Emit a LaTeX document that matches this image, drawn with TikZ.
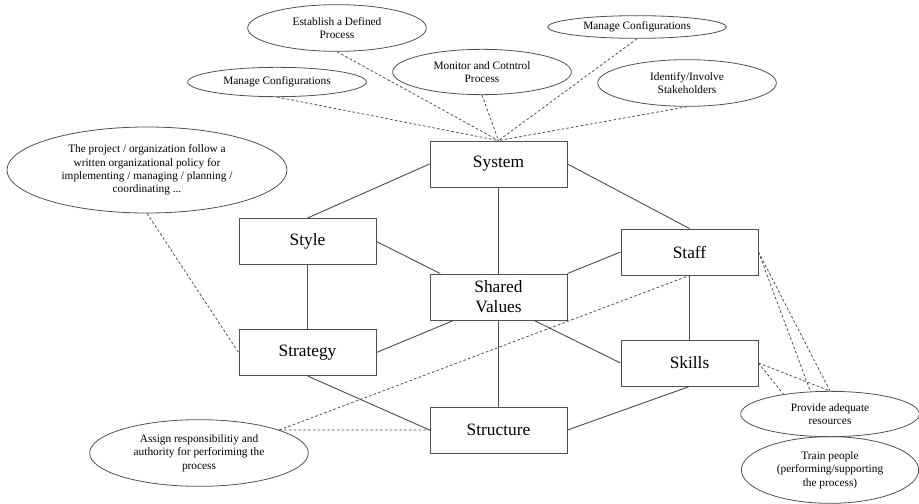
\documentclass[tikz,border=0pt]{standalone}
\usepackage{fontspec}
\setmainfont{Liberation Serif}
\usetikzlibrary{shapes.geometric}
\definecolor{edgegray}{HTML}{505050}
\tikzset{
  box/.style={draw=edgegray, line width=0.7pt, minimum width=102.75pt, minimum height=34.5pt,
              inner sep=0pt, align=center, font=\fontsize{13}{15}\selectfont},
  note/.style={draw=edgegray, line width=0.6pt, ellipse, inner sep=0pt, align=center,
               minimum width=134pt, font=\fontsize{8.5}{10}\selectfont},
  link/.style={draw=edgegray, line width=0.7pt},
  hint/.style={draw=edgegray, line width=0.6pt, dash pattern=on 2pt off 1.6pt},
}

\begin{document}
\begin{tikzpicture}[x=0.75pt, y=-0.75pt]
    \useasboundingbox (0,0) rectangle (919,503);
    \node[box] (system) at (498.5, 164) {System};
    \node[box] (style) at (307.5, 241.5) {Style};
    \node[box] (staff) at (689.5, 252) {Staff};
    \node[box] (shared) at (498.5, 297) {Shared\\Values};
    \node[box] (strategy) at (307.5, 352.5) {Strategy};
    \node[box] (skills) at (689.5, 363) {Skills};
    \node[box] (structure) at (498.5, 430) {Structure};

    \node[note, minimum height=22pt] (mcl) at (277, 82) {Manage Configurations};
    \node[note, minimum height=35pt] (edp) at (337, 28) {Establish a Defined\\Process};
    \node[note, minimum height=34pt] (mcp) at (482, 72) {Monitor and Cotntrol\\Process};
    \node[note, minimum height=17pt] (mcr) at (637, 27) {Manage Configurations};
    \node[note, minimum height=35pt] (ids) at (687, 83) {Identify/Involve\\Stakeholders};
    \node[note, minimum width=210pt, minimum height=64.5pt] (pol) at (147, 170)
      {The project / organization follow a\\written organizational policy for\\implementing / managing / planning /\\coordinating ...};
    \node[note, minimum width=164pt, minimum height=50pt] (asg) at (199, 453)
      {Assign responsibilitiy and\\authority for perforiming the\\process};
    \node[note, minimum height=34pt] (pra) at (830, 414) {Provide adequate\\resources};
    \node[note, minimum width=133pt, minimum height=50pt] (trn) at (830, 470)
      {Train people\\(performing/supporting\\the process)};

    \draw[link] (system.west) -- (style.north);
    \draw[link] (system.east) -- (staff.north);
    \draw[link] (system.south) -- (shared.north);
    \draw[link] (style.south) -- (strategy.north);
    \draw[link] (style.east) -- ([xshift=8pt]shared.north west);
    \draw[link] (staff.west) -- (shared.north east);
    \draw[link] (strategy.east) -- ([xshift=18pt]shared.south west);
    \draw[link] ([xshift=-25pt]shared.south east) -- (skills.west);
    \draw[link] (shared.south) -- (structure.north);
    \draw[link] (strategy.south) -- (structure.west);
    \draw[link] (skills.south) -- (structure.east);
    \draw[link] (staff.south) -- (skills.north);

    \foreach \e in {mcl, edp, mcp, mcr, ids}
      \draw[hint] (\e.south) -- (system.north);
    \draw[hint] (pol.south) -- (strategy.west);
    \draw[hint] (asg.16) -- (structure.west);
    \draw[hint] (asg.16) -- (staff.south);
    \draw[hint] (staff.east) -- (pra.131);
    \draw[hint] (staff.east) -- (pra.north);
    \draw[hint] (skills.east) -- (pra.157);
    \draw[hint] (skills.east) -- (pra.north);
  \end{tikzpicture}
\end{document}
